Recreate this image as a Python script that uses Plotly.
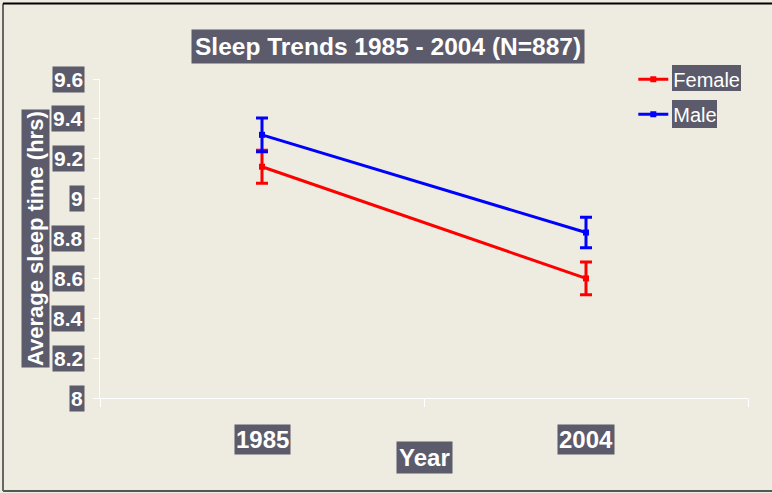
import plotly.graph_objects as go

years = ["1985", "2004"]
female = [9.16, 8.60]
female_err = [0.083, 0.082]
male = [9.32, 8.83]
male_err = [0.085, 0.077]
y_ticks = [8, 8.2, 8.4, 8.6, 8.8, 9, 9.2, 9.4, 9.6]
y_tick_labels = ["8", "8.2", "8.4", "8.6", "8.8", "9", "9.2", "9.4", "9.6"]

BG = "#EEEBE1"
BOX = "#5B5B6B"
FONT = "Liberation Sans, Arial, sans-serif"

fig = go.Figure()
for name, vals, errs, col in [("Female", female, female_err, "#FF0000"),
                              ("Male", male, male_err, "#0000FF")]:
    fig.add_trace(go.Scatter(
        x=years, y=vals, name=name, mode="lines+markers", legendgroup=name,
        line=dict(color=col, width=3),
        marker=dict(symbol="square", size=6, color=col),
        error_y=dict(type="data", array=errs, visible=True, color=col,
                     thickness=3, width=6),
    ))

fig.update_layout(
    width=772, height=493,
    paper_bgcolor=BG, plot_bgcolor=BG,
    margin=dict(l=100, r=24, t=79, b=95),
    showlegend=True,
    legend=dict(x=0.823, y=1.06, xanchor="left", yanchor="top",
                bgcolor="rgba(0,0,0,0)",
                font=dict(family=FONT, size=20, color="white"),
                itemwidth=30, tracegroupgap=6),
    xaxis=dict(type="category", range=[-0.5, 1.5], tickson="boundaries",
               showticklabels=False, showline=True, linecolor="white",
               linewidth=1, ticks="outside", ticklen=8, tickcolor="white",
               showgrid=False, zeroline=False, fixedrange=True),
    yaxis=dict(range=[8, 9.6], tickvals=y_ticks, showticklabels=False,
               showline=True, linecolor="white", linewidth=1,
               ticks="outside", ticklen=6, tickcolor="white",
               showgrid=False, zeroline=False, fixedrange=True),
)

ann = []
for v, t in zip(y_ticks, y_tick_labels):
    ann.append(dict(xref="paper", yref="y", x=0, y=v, text=f"<b>{t}</b>",
                    xanchor="right", yanchor="middle", xshift=-15,
                    showarrow=False, bgcolor=BOX, borderpad=1,
                    font=dict(family=FONT, size=21, color="white")))
for i, yr in enumerate(years):
    ann.append(dict(xref="x", yref="paper", x=i, y=0, text=f"<b>{yr}</b>",
                    xanchor="center", yanchor="top", yshift=-26,
                    showarrow=False, bgcolor=BOX, borderpad=1,
                    font=dict(family=FONT, size=24, color="white")))
ann.append(dict(xref="paper", yref="paper", x=0.5, y=0, text="<b>Year</b>",
                xanchor="center", yanchor="top", yshift=-43,
                showarrow=False, bgcolor=BOX, borderpad=2,
                font=dict(family=FONT, size=24, color="white")))
ann.append(dict(xref="paper", yref="paper", x=(35.5 - 100) / 648, y=0.5,
                text="<b>Average sleep time (hrs)</b>", textangle=-90,
                xanchor="center", yanchor="middle", showarrow=False,
                bgcolor=BOX, borderpad=1,
                font=dict(family=FONT, size=22, color="white")))
ann.append(dict(xref="paper", yref="paper", x=(387.5 - 100) / 648,
                y=1 + (79 - 47) / 319,
                text="<b>Sleep Trends 1985 - 2004 (N=887)</b>",
                xanchor="center", yanchor="middle", showarrow=False,
                bgcolor=BOX, borderpad=3,
                font=dict(family=FONT, size=24.5, color="white")))
fig.update_layout(annotations=ann)

def px_x(p):
    return (p - 100) / 648

def px_y(p):
    return 1 - (p - 79) / 319

shapes = [
    dict(type="rect", xref="paper", yref="paper", layer="above",
         x0=px_x(672), x1=px_x(741), y0=px_y(91), y1=px_y(65),
         fillcolor=BOX, line=dict(width=0)),
    dict(type="rect", xref="paper", yref="paper", layer="above",
         x0=px_x(672), x1=px_x(717), y0=px_y(128), y1=px_y(100),
         fillcolor=BOX, line=dict(width=0)),
    dict(type="line", xref="paper", yref="paper", layer="above",
         x0=px_x(3), x1=px_x(775), y0=px_y(491), y1=px_y(491),
         line=dict(color="#555555", width=2)),
    dict(type="line", xref="paper", yref="paper", layer="above",
         x0=px_x(3), x1=px_x(3), y0=px_y(491), y1=px_y(3.5),
         line=dict(color="#666666", width=2)),
    dict(type="line", xref="paper", yref="paper", layer="above",
         x0=px_x(3), x1=px_x(775), y0=px_y(3.5), y1=px_y(3.5),
         line=dict(color="#000000", width=2)),
]
fig.update_layout(shapes=shapes)

fig.write_html("out.html", config={"displayModeBar": False},
               post_script="document.body.style.margin='0';")
